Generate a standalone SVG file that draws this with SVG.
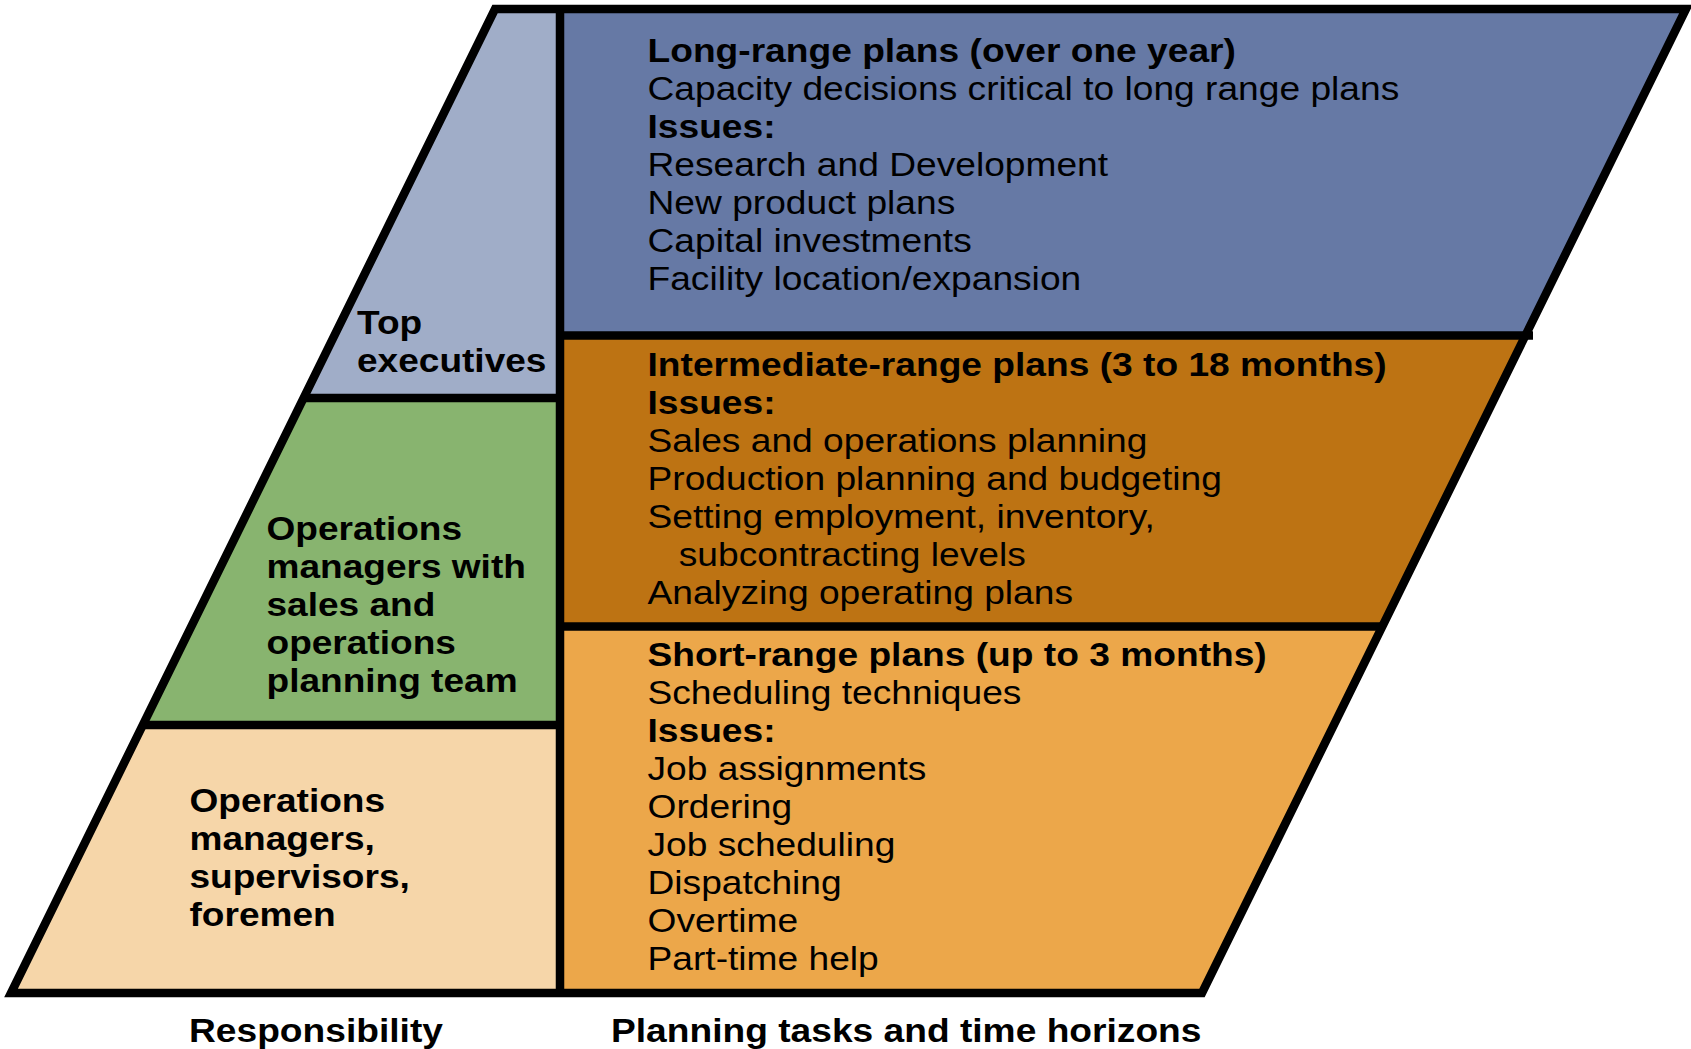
<svg xmlns="http://www.w3.org/2000/svg" width="1691" height="1049" viewBox="0 0 1691 1049">
  <style>
    .edge { fill: none; stroke: #000; stroke-width: 8.5; stroke-linejoin: miter; }
    .role { font-family: "Liberation Sans", Arial, sans-serif; font-size: 34px; font-weight: bold; fill: #000; }
    .task { font-family: "Liberation Sans", Arial, sans-serif; font-size: 34px; fill: #000; }
    .task .head { font-weight: bold; }
    .axis { font-family: "Liberation Sans", Arial, sans-serif; font-size: 34px; font-weight: bold; fill: #000; }
  </style>

  <rect x="0" y="0" width="1691" height="1049" fill="#ffffff"/>

  <!-- Responsibility column -->
  <g id="top-executives">
    <polygon points="495,9 560,9 560,398 303.6,398" fill="#a0adc8"/>
    <g class="role" transform="translate(357,0) scale(1.09,1)">
      <text x="0" y="334">Top</text>
      <text x="0" y="372">executives</text>
    </g>
  </g>

  <g id="operations-managers-sop">
    <polygon points="303.6,398 560,398 560,725 142.8,725" fill="#88b46f"/>
    <g class="role" transform="translate(266.5,0) scale(1.09,1)">
      <text x="0" y="540">Operations</text>
      <text x="0" y="578">managers with</text>
      <text x="0" y="616">sales and</text>
      <text x="0" y="654">operations</text>
      <text x="0" y="692">planning team</text>
    </g>
  </g>

  <g id="operations-supervisors">
    <polygon points="142.8,725 560,725 560,993 11,993" fill="#f6d6a9"/>
    <g class="role" transform="translate(189.5,0) scale(1.09,1)">
      <text x="0" y="812.5">Operations</text>
      <text x="0" y="850.5">managers,</text>
      <text x="0" y="888.5">supervisors,</text>
      <text x="0" y="926.5">foremen</text>
    </g>
  </g>

  <!-- Planning horizon column -->
  <g id="long-range">
    <polygon points="560,9 1686,9 1525.4,335.5 560,335.5" fill="#6679a5"/>
    <g class="task" transform="translate(647.5,0) scale(1.093,1)">
      <text class="head" x="0" y="62.5">Long-range plans (over one year)</text>
      <text x="0" y="100.5">Capacity decisions critical to long range plans</text>
      <text class="head" x="0" y="138.5">Issues:</text>
      <text x="0" y="176.5">Research and Development</text>
      <text x="0" y="214.5">New product plans</text>
      <text x="0" y="252.5">Capital investments</text>
      <text x="0" y="290.5">Facility location/expansion</text>
    </g>
  </g>

  <g id="intermediate-range">
    <polygon points="560,335.5 1525.4,335.5 1382.3,626.5 560,626.5" fill="#bd7313"/>
    <g class="task" transform="translate(647.5,0) scale(1.093,1)">
      <text class="head" x="0" y="376">Intermediate-range plans (3 to 18 months)</text>
      <text class="head" x="0" y="414">Issues:</text>
      <text x="0" y="452">Sales and operations planning</text>
      <text x="0" y="490">Production planning and budgeting</text>
      <text x="0" y="528">Setting employment, inventory,</text>
      <text x="28.6" y="566">subcontracting levels</text>
      <text x="0" y="604">Analyzing operating plans</text>
    </g>
  </g>

  <g id="short-range">
    <polygon points="560,626.5 1382.3,626.5 1202,993 560,993" fill="#eca74a"/>
    <g class="task" transform="translate(647.5,0) scale(1.093,1)">
      <text class="head" x="0" y="666">Short-range plans (up to 3 months)</text>
      <text x="0" y="704">Scheduling techniques</text>
      <text class="head" x="0" y="742">Issues:</text>
      <text x="0" y="780">Job assignments</text>
      <text x="0" y="818">Ordering</text>
      <text x="0" y="856">Job scheduling</text>
      <text x="0" y="894">Dispatching</text>
      <text x="0" y="932">Overtime</text>
      <text x="0" y="970">Part-time help</text>
    </g>
  </g>

  <!-- Outline and dividing lines -->
  <g id="outlines">
    <polygon class="edge" points="495,9 1686,9 1202,993 11,993"/>
    <line class="edge" x1="560" y1="9" x2="560" y2="993"/>
    <line class="edge" x1="303.6" y1="398" x2="560" y2="398"/>
    <line class="edge" x1="142.8" y1="725" x2="560" y2="725"/>
    <line class="edge" x1="560" y1="335.5" x2="1533" y2="335.5"/>
    <line class="edge" x1="560" y1="626.5" x2="1382.3" y2="626.5"/>
  </g>

  <!-- Column captions -->
  <g id="captions" class="axis">
    <g transform="translate(189,0) scale(1.093,1)">
      <text x="0" y="1042">Responsibility</text>
    </g>
    <g transform="translate(611,0) scale(1.093,1)">
      <text x="0" y="1042">Planning tasks and time horizons</text>
    </g>
  </g>
</svg>
